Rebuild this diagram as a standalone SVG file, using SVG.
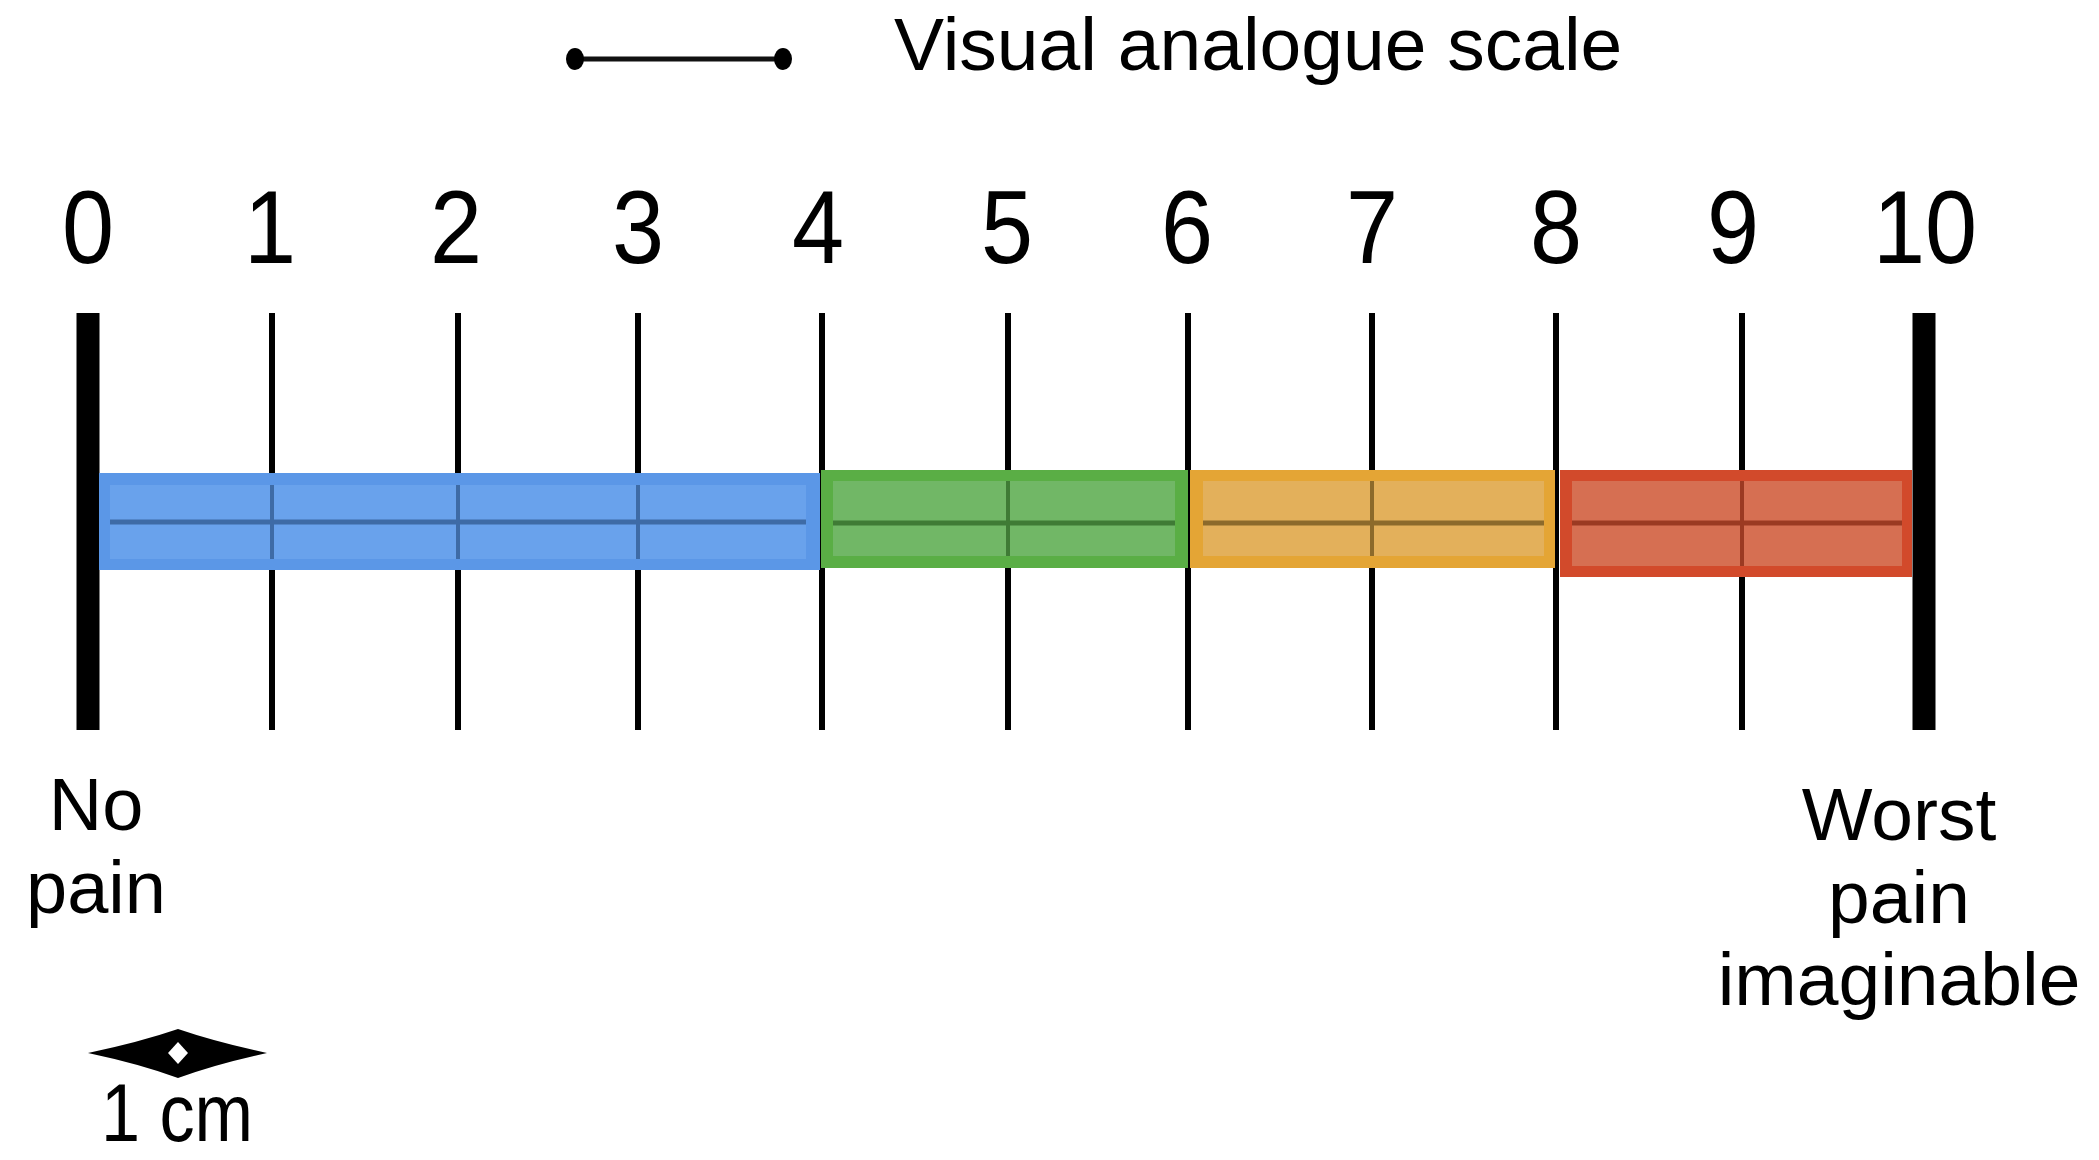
<svg xmlns="http://www.w3.org/2000/svg" width="2099" height="1160" viewBox="0 0 2099 1160">
  <style>
    .t { font-family: "Liberation Sans", Arial, sans-serif; fill: #000; }
    .num { font-size: 104px; text-anchor: middle; }
    .lbl { font-size: 75px; text-anchor: middle; }
    .thin { stroke: #000; stroke-width: 6; }
    .thick { stroke: #000; stroke-width: 23; }
    .mid { stroke-width: 5; }
    .itk { stroke-width: 4; }
  </style>
  <rect x="0" y="0" width="2099" height="1160" fill="#ffffff"/>

  <g id="legend">
    <line x1="575" y1="59" x2="783" y2="59" stroke="#111" stroke-width="5"/>
    <ellipse cx="575" cy="59" rx="9" ry="11" fill="#000"/>
    <ellipse cx="783" cy="59" rx="9" ry="11" fill="#000"/>
    <text class="t" x="894" y="70" font-size="75">Visual analogue scale</text>
  </g>

  <g id="numbers" class="t num">
    <text transform="translate(88,263) scale(0.9,1)">0</text>
    <text transform="translate(270,263) scale(0.9,1)">1</text>
    <text transform="translate(456,263) scale(0.9,1)">2</text>
    <text transform="translate(638,263) scale(0.9,1)">3</text>
    <text transform="translate(818,263) scale(0.9,1)">4</text>
    <text transform="translate(1007,263) scale(0.9,1)">5</text>
    <text transform="translate(1187,263) scale(0.9,1)">6</text>
    <text transform="translate(1372,263) scale(0.9,1)">7</text>
    <text transform="translate(1556,263) scale(0.9,1)">8</text>
    <text transform="translate(1733,263) scale(0.9,1)">9</text>
    <text transform="translate(1925,263) scale(0.9,1)">10</text>
  </g>

  <g id="ticks">
    <line class="thick" x1="88" y1="313" x2="88" y2="730"/>
    <line class="thin" x1="272" y1="313" x2="272" y2="730"/>
    <line class="thin" x1="458" y1="313" x2="458" y2="730"/>
    <line class="thin" x1="638" y1="313" x2="638" y2="730"/>
    <line class="thin" x1="822" y1="313" x2="822" y2="730"/>
    <line class="thin" x1="1008" y1="313" x2="1008" y2="730"/>
    <line class="thin" x1="1188" y1="313" x2="1188" y2="730"/>
    <line class="thin" x1="1372" y1="313" x2="1372" y2="730"/>
    <line class="thin" x1="1556" y1="313" x2="1556" y2="730"/>
    <line class="thin" x1="1742" y1="313" x2="1742" y2="730"/>
    <line class="thick" x1="1924" y1="313" x2="1924" y2="730"/>
  </g>

  <g id="band-blue">
    <rect x="99" y="473" width="721" height="97" fill="#5b97e7"/>
    <rect x="110" y="485" width="696" height="74" fill="#69a2ec"/>
    <line class="mid" x1="110" y1="522" x2="806" y2="522" stroke="#3e6ba6"/>
    <g stroke="#3e6ba6" class="itk">
      <line x1="272" y1="485" x2="272" y2="559"/>
      <line x1="458" y1="485" x2="458" y2="559"/>
      <line x1="638" y1="485" x2="638" y2="559"/>
    </g>
  </g>

  <g id="band-green">
    <rect x="821" y="470" width="367" height="98" fill="#5aae45"/>
    <rect x="833" y="481" width="342" height="75" fill="#71b766"/>
    <line class="mid" x1="833" y1="523" x2="1175" y2="523" stroke="#3f7b35"/>
    <line class="itk" x1="1008" y1="481" x2="1008" y2="556" stroke="#3f7b35"/>
  </g>

  <g id="band-orange">
    <rect x="1190" y="470" width="365" height="98" fill="#e4a535"/>
    <rect x="1203" y="481" width="341" height="75" fill="#e3b05b"/>
    <line class="mid" x1="1203" y1="523" x2="1544" y2="523" stroke="#8c6a2b"/>
    <line class="itk" x1="1372" y1="481" x2="1372" y2="556" stroke="#8c6a2b"/>
  </g>

  <g id="band-red">
    <rect x="1560" y="470" width="352" height="107" fill="#d24a2b"/>
    <rect x="1572" y="481" width="330" height="85" fill="#d66f52"/>
    <line class="mid" x1="1572" y1="523" x2="1902" y2="523" stroke="#9b3a22"/>
    <line class="itk" x1="1742" y1="481" x2="1742" y2="566" stroke="#9b3a22"/>
  </g>

  <g id="label-no-pain" class="t lbl">
    <text x="96" y="830" font-size="74">No</text>
    <text x="96" y="913" font-size="74">pain</text>
  </g>

  <g id="label-worst" class="t lbl">
    <text x="1899" y="840">Worst</text>
    <text x="1899" y="923">pain</text>
    <text x="1899" y="1005">imaginable</text>
  </g>

  <g id="scale-1cm">
    <path d="M88,1053 Q140,1042 178,1029 Q216,1042 267,1053 Q216,1064 178,1078 Q140,1064 88,1053 Z" fill="#000"/>
    <path d="M178,1042 L188,1053 L178,1064 L168,1053 Z" fill="#fff"/>
    <text class="t" transform="translate(177,1141) scale(0.9,1.04)" font-size="78" text-anchor="middle">1 cm</text>
  </g>

  <g id="connectors"></g>
</svg>
